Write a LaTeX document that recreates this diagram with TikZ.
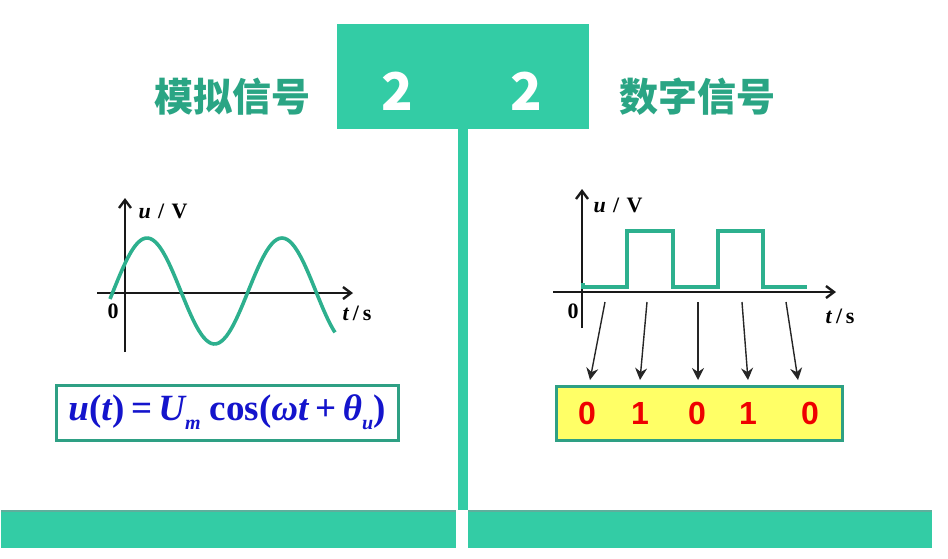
\documentclass[tikz,border=0pt]{standalone}
\usepackage{fontspec}
\setmainfont{Liberation Serif}
\newfontfamily\cjkfont{Noto Sans CJK SC}
\newfontfamily\arialfont{Liberation Sans}
\usetikzlibrary{arrows.meta}

\definecolor{mooc}{HTML}{33CCA5}
\definecolor{mooctitle}{HTML}{2AA584}
\definecolor{moocedge}{HTML}{5FAE9C}
\definecolor{boxedge}{HTML}{2EA084}
\definecolor{wavecol}{HTML}{2DB08E}
\definecolor{formblue}{HTML}{1414CC}
\definecolor{bitred}{HTML}{EE0000}
\definecolor{bityellow}{HTML}{FFFF66}

\begin{document}
\begin{tikzpicture}[
    x=1pt, y=-1pt,
    panel/.style={fill=mooc, draw=none},
    title/.style={font=\cjkfont\bfseries\fontsize{39}{39}\selectfont, text=mooctitle, inner sep=0pt},
    bignum/.style={font=\cjkfont\bfseries\fontsize{52}{52}\selectfont, text=white, inner sep=0pt},
    axis/.style={line width=2.6pt, draw=black!90, -{Straight Barb[length=8pt,width=12pt,line width=2.4pt]}},
    axlabel/.style={font=\bfseries\fontsize{22}{22}\selectfont, inner sep=0pt},
    wave/.style={line width=3.6pt, draw=wavecol},
    square/.style={line width=3.2pt, draw=wavecol},
    framebox/.style={draw=boxedge, line width=3pt},
    bit/.style={font=\arialfont\bfseries\fontsize{32}{32}\selectfont, text=bitred, inner sep=0pt},
    sample/.style={line width=1.4pt, draw=black!85, -{Stealth[length=12pt,width=12pt,inset=4pt]}}
]
\useasboundingbox (0,0) rectangle (948,558);

% header, stem and footer bars
\fill[panel] (337,24) rectangle (589,129);
\fill[panel] (458,129) rectangle (468,510);
\fill[panel] (1,510) rectangle (456,548);
\fill[panel] (468,510) rectangle (932,548);
\draw[moocedge, line width=1.6pt] (1,511) -- (456,511) (468,511) -- (932,511);

\node[bignum] (numl) at (397,91) {2};
\node[bignum] (numr) at (526,91) {2};
\node[title] (analog) at (232,97) {模拟信号};
\node[title] (digital) at (697,97) {数字信号};

% analog signal
\coordinate (ay0) at (125,352);
\coordinate (ay1) at (125,198);
\coordinate (ax0) at (97,293);
\coordinate (ax1) at (353,293);
\draw[axis] (ay0) -- (ay1);
\draw[axis] (ax0) -- (ax1);
\draw[wave] plot[domain=110:335, samples=90, smooth]
    (\x, {291 - 53*sin(((\x-113.25)/135)*360)});
\node[axlabel] (aulab) at (163,211) {\textit{u}\,\,/\,\,V};
\node[axlabel] (azero) at (113,311) {0};
\node[axlabel] (atlab) at (357,313) {\textit{t}\,/\,s};

\node[framebox, fill=white, minimum width=342pt, minimum height=55pt] (formula) at (227,412.5) {};
\node[font=\bfseries\fontsize{37}{37}\selectfont, text=formblue] (eq) at (formula.center)
    {\itshape u\upshape(\itshape t\/\upshape)\,=\,\itshape U\raisebox{-9pt}{\fontsize{20}{20}\selectfont m}\upshape\ cos(\itshape ωt\/\upshape\,+\,\itshape θ\raisebox{-9pt}{\fontsize{20}{20}\selectfont u}\upshape)};

% digital signal
\coordinate (dy0) at (582,328);
\coordinate (dy1) at (582,189);
\coordinate (dx0) at (553,292);
\coordinate (dx1) at (836,292);
\draw[axis] (dy0) -- (dy1);
\draw[axis] (dx0) -- (dx1);
\draw[square] (583,283) -- (583,287) -- (627,287) -- (627,231) -- (673,231) -- (673,287)
    -- (718,287) -- (718,231) -- (763,231) -- (763,287) -- (807,287);
\node[axlabel] (dulab) at (618,205) {\textit{u}\,\,/\,\,V};
\node[axlabel] (dzero) at (573,311) {0};
\node[axlabel] (dtlab) at (840,316) {\textit{t}\,/\,s};

\node[framebox, fill=bityellow, minimum width=286pt, minimum height=54pt] (bits) at (699,413) {};
\node[bit] (b1) at (587,413) {0};
\node[bit] (b2) at (640,413) {1};
\node[bit] (b3) at (697,413) {0};
\node[bit] (b4) at (748,413) {1};
\node[bit] (b5) at (810,413) {0};

\foreach \i/\xs/\xe in {1/605/590, 2/647/640, 3/698/698, 4/742/748, 5/786/798} {
    \coordinate (s\i) at (\xs,302);
    \coordinate (e\i) at (\xe,380);
    \draw[sample] (s\i) -- (e\i);
}

\end{tikzpicture}
\end{document}
